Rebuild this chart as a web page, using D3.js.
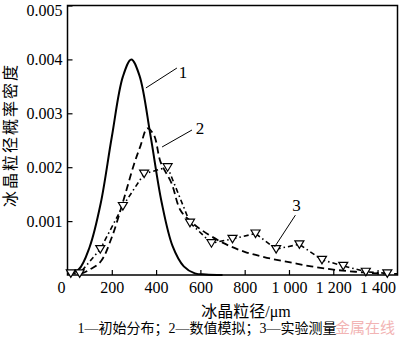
<!DOCTYPE html>
<html>
<head>
<meta charset="utf-8">
<script src="https://cdn.jsdelivr.net/npm/d3@7/dist/d3.min.js"></script>
<style>
  body { margin: 0; background: #fff; }
  text { fill: #000; }
</style>
</head>
<body>
<svg id="chart" width="400" height="342"></svg>
<script>
// Axis ticks
const xTickValues = [200, 400, 600, 800, 1000, 1200, 1400];
const xTickLabels = ["200", "400", "600", "800", "1 000", "1 200", "1 400"];
const yTickValues = [0.001, 0.002, 0.003, 0.004, 0.005];
const yTickLabels = ["0.001", "0.002", "0.003", "0.004", "0.005"];

// Series 1: initial distribution
const initialSize = [0, 50, 100, 150, 200, 250, 288, 325, 375, 425, 475, 525, 575, 625, 700];
const initialDensity = [0.00003, 0.0001, 0.00052, 0.00133, 0.00256, 0.00368, 0.004, 0.0037, 0.00258, 0.00135, 0.00053, 0.00016, 0.00003, 0.00001, 0];

// Series 2: numerical simulation
const simSize = [60, 100, 150, 200, 250, 300, 330, 360, 390, 420, 470, 510, 560, 600, 700, 800, 900, 1000, 1100, 1200, 1300, 1400, 1490];
const simDensity = [0.00002, 0.0001, 0.00025, 0.0007, 0.00135, 0.00205, 0.0024, 0.00272, 0.0026, 0.0021, 0.0017, 0.0012, 0.00098, 0.00085, 0.0006, 0.00043, 0.00032, 0.00024, 0.00016, 0.0001, 0.00006, 0.00003, 0.00002];

// Series 3: experimental measurement
const expSize = [15, 55, 148, 250, 346, 452, 553, 650, 745, 849, 942, 1047, 1149, 1245, 1347, 1444];
const expDensity = [0.00003, 0.00003, 0.00048, 0.00128, 0.00188, 0.002, 0.00097, 0.00059, 0.00067, 0.00077, 0.00048, 0.00057, 0.00028, 0.00017, 0.00006, 0.00003];

// Curve labels with leader lines (data units)
const curveNames = ["1", "2", "3"];
const labelX = [521, 598, 1034];
const labelY = [0.003766, 0.002727, 0.0013];
const leaderFromX = [354, 427, 935];
const leaderFromY = [0.00347, 0.002375, 0.00052];
const leaderToX = [494, 562, 1029];
const leaderToY = [0.00384, 0.00269, 0.00111];

const serif = "'Liberation Serif', 'Times New Roman', serif";
const cjk = "'Liberation Serif', 'Noto Sans CJK SC', serif";

const svg = d3.select("#chart");
const plotLeft = 67.5, plotRight = 397.5, plotTop = 5.5, plotBottom = 275;

const x = d3.scaleLinear().domain([0, 1490]).range([plotLeft, plotRight]);
const y = d3.scaleLinear().domain([0, 0.005]).range([plotBottom, plotTop]);

// Bottom axis with inward ticks
const xAxis = d3.axisBottom(x).tickValues(xTickValues)
  .tickSizeInner(-5).tickSizeOuter(0)
  .tickFormat((d, i) => xTickLabels[i]);
const gx = svg.append("g").attr("transform", `translate(0,${plotBottom})`).call(xAxis);
gx.select(".domain").remove();
gx.selectAll(".tick line").attr("stroke", "#000").attr("stroke-width", 1.2);
gx.selectAll(".tick text").attr("y", 7).attr("dy", "0.71em")
  .style("font-family", serif).style("font-size", "16px");

// Left axis with inward ticks
const yAxis = d3.axisLeft(y).tickValues(yTickValues)
  .tickSizeInner(-5).tickSizeOuter(0)
  .tickFormat((d, i) => yTickLabels[i]);
const gy = svg.append("g").attr("transform", `translate(${plotLeft},0)`).call(yAxis);
gy.select(".domain").remove();
gy.selectAll(".tick line").attr("stroke", "#000").attr("stroke-width", 1.2);
gy.selectAll(".tick text").attr("x", -5)
  .style("font-family", serif).style("font-size", "16px");
// keep the topmost label inside the canvas
gy.selectAll(".tick text").filter(d => d === 0.005).attr("dy", "0.62em");

// Shared origin label
svg.append("text").attr("x", x(0) - 6).attr("y", plotBottom + 7).attr("dy", "0.71em")
  .attr("text-anchor", "middle").style("font-family", serif).style("font-size", "16px").text("0");

// Frame
svg.append("rect").attr("x", plotLeft).attr("y", plotTop)
  .attr("width", plotRight - plotLeft).attr("height", plotBottom - plotTop)
  .attr("fill", "none").attr("stroke", "#000").attr("stroke-width", 1.5);

const plot = svg.append("g");

// Curve 1: solid
const pts1 = initialSize.map((d, i) => [d, initialDensity[i]]);
plot.append("path").datum(pts1)
  .attr("d", d3.line().x(d => x(d[0])).y(d => y(d[1])).curve(d3.curveCatmullRom))
  .attr("fill", "none").attr("stroke", "#000").attr("stroke-width", 2);

// Curve 2: dashed
const pts2 = simSize.map((d, i) => [d, simDensity[i]]);
plot.append("path").datum(pts2)
  .attr("d", d3.line().x(d => x(d[0])).y(d => y(d[1])).curve(d3.curveCatmullRom))
  .attr("fill", "none").attr("stroke", "#000").attr("stroke-width", 1.8)
  .attr("stroke-dasharray", "7,4");

// Curve 3: dash-dot with open down-triangles
const pts3 = expSize.map((d, i) => [d, expDensity[i]]);
plot.append("path").datum(pts3)
  .attr("d", d3.line().x(d => x(d[0])).y(d => y(d[1])))
  .attr("fill", "none").attr("stroke", "#000").attr("stroke-width", 1.6)
  .attr("stroke-dasharray", "5,3,1.5,3");

const tri = "M-4.5,-3.5 L4.5,-3.5 L0,4 Z";
plot.selectAll("path.marker").data(pts3).enter().append("path")
  .attr("class", "marker")
  .attr("transform", d => `translate(${x(d[0])},${y(d[1])})`)
  .attr("d", tri)
  .attr("fill", "#fff").attr("stroke", "#000").attr("stroke-width", 1.2);

// Curve labels and leaders
curveNames.forEach((name, i) => {
  svg.append("line")
    .attr("x1", x(leaderFromX[i])).attr("y1", y(leaderFromY[i]))
    .attr("x2", x(leaderToX[i])).attr("y2", y(leaderToY[i]))
    .attr("stroke", "#000").attr("stroke-width", 1);
  svg.append("text").attr("x", x(labelX[i])).attr("y", y(labelY[i])).attr("dy", "0.35em")
    .attr("text-anchor", "middle")
    .style("font-family", serif).style("font-size", "17px").text(name);
});

// Axis titles
svg.append("text").attr("x", 246).attr("y", 317).attr("text-anchor", "middle")
  .style("font-family", cjk).style("font-size", "16px").text("冰晶粒径/μm");

svg.append("text").attr("transform", "translate(16,135) rotate(-90)")
  .attr("text-anchor", "middle")
  .style("font-family", cjk).style("font-size", "16px").style("letter-spacing", "2px")
  .text("冰晶粒径概率密度");

// Legend caption
svg.append("text").attr("x", 207).attr("y", 333).attr("text-anchor", "middle")
  .style("font-family", cjk).style("font-size", "14px")
  .text("1—初始分布；2—数值模拟；3—实验测量");

// Source mark
svg.append("text").attr("x", 395).attr("y", 333).attr("text-anchor", "end")
  .style("font-family", "'Noto Sans CJK SC', sans-serif").style("font-size", "15px")
  .style("fill", "#f2b4b4").text("金属在线");
</script>
</body>
</html>
